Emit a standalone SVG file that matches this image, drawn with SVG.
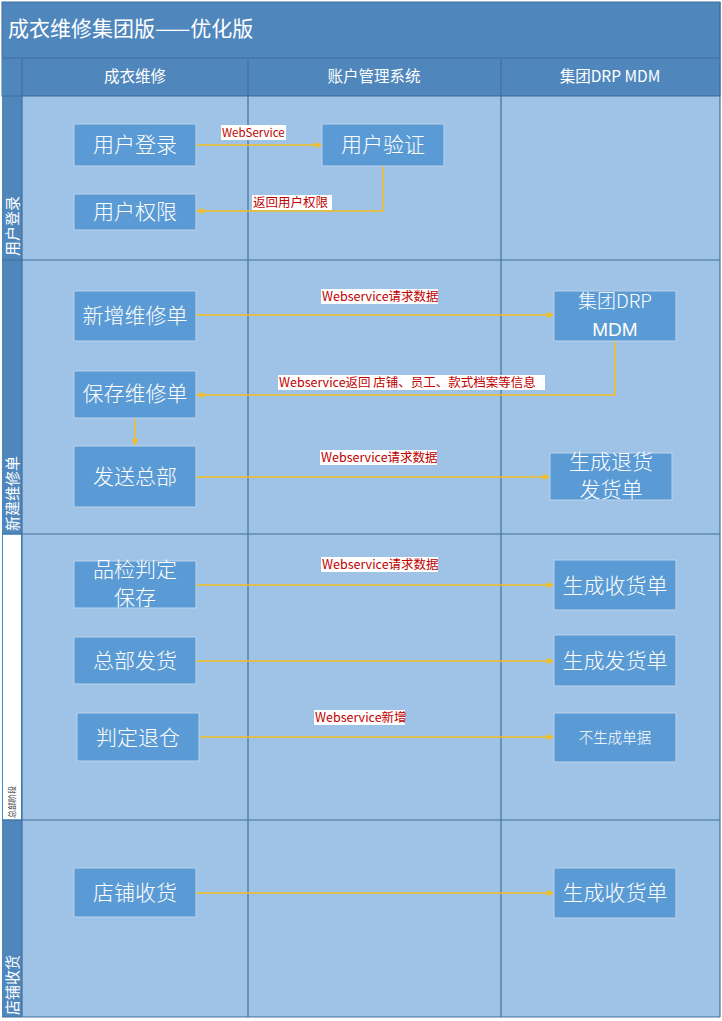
<svg xmlns="http://www.w3.org/2000/svg" width="722" height="1021" viewBox="0 0 722 1021">
<style>
.node rect{fill:#5b9bd5;stroke:#bcd3ea;stroke-width:1}
.node text{fill:#ffffff;font-family:"Noto Sans CJK SC","Liberation Sans",sans-serif;font-size:21px;font-weight:300;text-anchor:middle}
.hdr{fill:#ffffff;font-family:"Noto Sans CJK SC","Liberation Sans",sans-serif;font-size:15.5px;text-anchor:middle}
.lane{fill:#ffffff;font-family:"Noto Sans CJK SC",sans-serif;font-size:15px}
.conn path{fill:none;stroke:#f5bd1f;stroke-width:1.5}
.lbl rect{fill:#ffffff}
.lbl text{fill:#c00000;font-family:"Noto Sans CJK SC","Liberation Sans",sans-serif;font-size:12.5px}
.grid line{stroke:#41719c;stroke-width:1.2}
</style>
<defs>
<marker id="ah" viewBox="0 0 10 10" refX="9" refY="5" markerWidth="4.5" markerHeight="4.5" orient="auto">
<path d="M0,0 L10,5 L0,10 Z" fill="#f5bd1f"/>
</marker>
</defs>
<rect x="0" y="0" width="722" height="1021" fill="#ffffff"/>
<!-- title and header -->
<rect x="2" y="2" width="718" height="94" fill="#4f87bd" stroke="#41719c"/>
<text x="8" y="36" fill="#ffffff" font-family="Noto Sans CJK SC,sans-serif" font-size="21">成衣维修集团版——优化版</text>
<!-- lanes background -->
<rect x="22" y="96" width="698" height="921" fill="#9fc3e6"/>
<rect x="2" y="58" width="20" height="476" fill="#4f87bd"/>
<rect x="2.5" y="534" width="19" height="286" fill="#ffffff" stroke="#2e8fd0"/>
<rect x="2" y="820" width="20" height="197" fill="#4f87bd"/>
<g class="grid">
<line x1="2" y1="58" x2="720" y2="58" stroke="#5f93c5"/>
<line x1="22" y1="58" x2="22" y2="1017"/>
<line x1="248" y1="58" x2="248" y2="1017"/>
<line x1="501" y1="58" x2="501" y2="1017"/>
<line x1="720" y1="2" x2="720" y2="1017"/>
<line x1="2" y1="96" x2="720" y2="96"/>
<line x1="2" y1="260" x2="720" y2="260"/>
<line x1="2" y1="534" x2="720" y2="534"/>
<line x1="2" y1="820" x2="720" y2="820"/>
<line x1="2" y1="1017" x2="720" y2="1017"/>
</g>
<text class="hdr" x="135" y="82">成衣维修</text>
<text class="hdr" x="374" y="82">账户管理系统</text>
<text class="hdr" x="610" y="82">集团DRP MDM</text>
<!-- lane labels -->
<text class="lane" transform="translate(18,256) rotate(-90)">用户登录</text>
<text class="lane" transform="translate(18,531) rotate(-90)">新建维修单</text>
<text transform="translate(15,818) rotate(-90)" fill="#404040" font-family="Noto Sans CJK SC,sans-serif" font-size="8">总部阶段</text>
<text class="lane" transform="translate(18,1015) rotate(-90)">店铺收货</text>
<!-- connectors -->
<g id="connectors" class="conn">
<path d="M196,145 H321" marker-end="url(#ah)"/>
<path d="M383,166 V211 H197" marker-end="url(#ah)"/>
<path d="M196,315 H553" marker-end="url(#ah)"/>
<path d="M615,341 V395 H197" marker-end="url(#ah)"/>
<path d="M135,418 V445" marker-end="url(#ah)"/>
<path d="M196,477 H549" marker-end="url(#ah)"/>
<path d="M196,585 H553" marker-end="url(#ah)"/>
<path d="M196,661 H553" marker-end="url(#ah)"/>
<path d="M199,737 H553" marker-end="url(#ah)"/>
<path d="M196,893 H553" marker-end="url(#ah)"/>
</g>
<g id="labels" class="lbl">
<rect x="221" y="125" width="65" height="15"/><text x="222" y="137" style="font-size:11.5px">WebService</text>
<rect x="252" y="195" width="80" height="15"/><text x="253" y="207">返回用户权限</text>
<rect x="321" y="289" width="117" height="15"/><text x="322" y="301">Webservice请求数据</text>
<rect x="278" y="375" width="267" height="15"/><text x="279" y="387">Webservice返回 店铺、员工、款式档案等信息</text>
<rect x="320" y="450" width="117" height="15"/><text x="321" y="462">Webservice请求数据</text>
<rect x="321" y="557" width="117" height="15"/><text x="322" y="569">Webservice请求数据</text>
<rect x="314" y="710" width="91" height="15"/><text x="315" y="722">Webservice新增</text>
</g>
<!-- nodes -->
<g id="n1" class="node"><rect x="74" y="124" width="122" height="42"/><text x="135" y="152">用户登录</text></g>
<g id="n2" class="node"><rect x="322" y="124" width="122" height="42"/><text x="383" y="152">用户验证</text></g>
<g id="n3" class="node"><rect x="74" y="194" width="122" height="36"/><text x="135" y="219">用户权限</text></g>
<g id="n4" class="node"><rect x="74" y="291" width="122" height="50"/><text x="135" y="323">新增维修单</text></g>
<g id="n5" class="node"><rect x="74" y="371" width="122" height="47"/><text x="135" y="401">保存维修单</text></g>
<g id="n6" class="node"><rect x="74" y="446" width="122" height="61"/><text x="135" y="484">发送总部</text></g>
<g id="n7" class="node"><rect x="554" y="291" width="122" height="50"/><text x="615" y="308" style="font-size:19px">集团DRP</text><text x="615" y="336" style="font-size:19px;font-family:'Liberation Sans',sans-serif">MDM</text></g>
<g id="n8" class="node"><rect x="550" y="453" width="122" height="47"/><text x="611" y="469">生成退货</text><text x="611" y="497">发货单</text></g>
<g id="n9" class="node"><rect x="74" y="561" width="122" height="47"/><text x="135" y="577">品检判定</text><text x="135" y="605">保存</text></g>
<g id="n10" class="node"><rect x="74" y="637" width="122" height="47"/><text x="135" y="668">总部发货</text></g>
<g id="n11" class="node"><rect x="77" y="713" width="122" height="48"/><text x="138" y="745">判定退仓</text></g>
<g id="n12" class="node"><rect x="554" y="560" width="122" height="50"/><text x="615" y="593">生成收货单</text></g>
<g id="n13" class="node"><rect x="554" y="635" width="122" height="51"/><text x="615" y="668">生成发货单</text></g>
<g id="n14" class="node"><rect x="554" y="713" width="122" height="49"/><text x="615" y="743" style="font-size:14.5px">不生成单据</text></g>
<g id="n15" class="node"><rect x="74" y="868" width="122" height="49"/><text x="135" y="900">店铺收货</text></g>
<g id="n16" class="node"><rect x="554" y="868" width="122" height="50"/><text x="615" y="900">生成收货单</text></g>
</svg>
